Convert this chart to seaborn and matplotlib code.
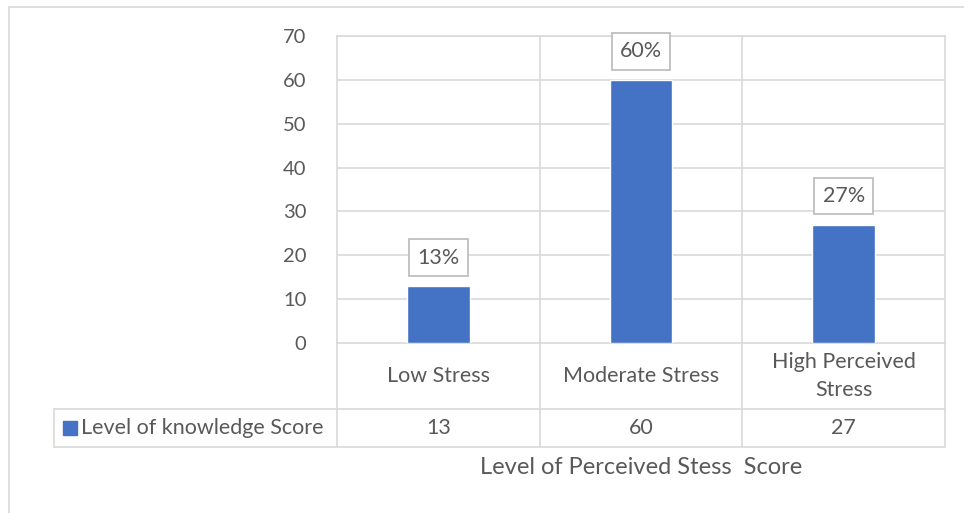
import numpy as np
import pandas as pd
import seaborn as sns
import matplotlib
matplotlib.use("Agg")
from matplotlib import pyplot as plt
from matplotlib import transforms
from matplotlib.patches import Rectangle

sns.set_style("white")
plt.rcParams['font.family'] = ['Lato', 'DejaVu Sans']

categories = ["Low Stress", "Moderate Stress", "High Perceived\nStress"]
scores = [13, 60, 27]
pct_labels = ["13%", "60%", "27%"]
series_name = "Level of knowledge Score"
x_title = "Level of Perceived Stess  Score"
yticks = [0, 10, 20, 30, 40, 50, 60, 70]

blue = "#4472c4"
grid = "#d9d9d9"
txt = "#595959"
fs = 15.5

df = pd.DataFrame({"cat": categories, "score": scores})

W, H = 964, 513
fig = plt.figure(figsize=(W / 100, H / 100), dpi=100)
ax = fig.add_axes([337 / W, 1 - 343 / H, (945 - 337) / W, (343 - 36) / H])

sns.barplot(data=df, x="cat", y="score", color=blue, width=0.31,
            saturation=1, ax=ax, zorder=3)

ax.set_ylim(0, 70)
ax.set_xlim(-0.5, len(categories) - 0.5)
ax.set_yticks(yticks)
ax.set_yticklabels([str(t) for t in yticks], color=txt, fontsize=14.5)
ax.tick_params(axis="y", length=0, pad=22)
ax.set_xticks([])
ax.set_xlabel("")
ax.set_ylabel("")
for s in ax.spines.values():
    s.set_color(grid)
    s.set_linewidth(1.2)

# grid lines
for t in yticks[1:]:
    ax.axhline(t, color=grid, lw=1.2, zorder=1)
for b in np.arange(0.5, len(categories) - 0.5):
    ax.axvline(b, color=grid, lw=1.2, zorder=1)

# percentage labels in boxes
for i, (v, lab) in enumerate(zip(scores, pct_labels)):
    ax.annotate(lab, (i, v), xytext=(0, 20.5), textcoords="offset points",
                ha="center", va="center", fontsize=fs, color=txt,
                bbox=dict(boxstyle="square,pad=0.38", fc="white",
                          ec="#bfbfbf", lw=1.3), zorder=5)

# data table below the axes
h_ax = 343 - 36
y_hdr = -(409 - 343) / h_ax
y_row = -(447 - 343) / h_ax
bt = transforms.blended_transform_factory(ax.transData, ax.transAxes)
x_left = (54 - 337) / (945 - 337)

line_kw = dict(color=grid, lw=1.2, clip_on=False)
bounds = np.arange(-0.5, len(categories))
for b in bounds:
    ax.plot([b, b], [0, y_row], transform=bt, **line_kw)
ax.plot([x_left, 1], [y_hdr, y_hdr], transform=ax.transAxes, **line_kw)
ax.plot([x_left, 1], [y_row, y_row], transform=ax.transAxes, **line_kw)
ax.plot([x_left, x_left], [y_hdr, y_row], transform=ax.transAxes, **line_kw)

for i, (c, v) in enumerate(zip(categories, scores)):
    ax.text(i, y_hdr / 2, c, transform=bt, ha="center", va="center",
            fontsize=fs, color=txt, linespacing=1.55)
    ax.text(i, (y_hdr + y_row) / 2, str(v), transform=bt, ha="center",
            va="center", fontsize=fs, color=txt)

sq_x = (63 - 337) / (945 - 337)
sq_w = 14 / (945 - 337)
sq_h = 14 / h_ax
ax.add_patch(Rectangle((sq_x, (y_hdr + y_row) / 2 - sq_h / 2), sq_w, sq_h,
                       transform=ax.transAxes, color=blue, clip_on=False))
ax.text((81 - 337) / (945 - 337), (y_hdr + y_row) / 2, series_name,
        transform=ax.transAxes, ha="left", va="center", fontsize=fs, color=txt)

fig.text(641 / W, 1 - 468 / H, x_title, ha="center", va="center",
         fontsize=17, color=txt)

# outer chart border
fig.add_artist(plt.Line2D([9 / W, 9 / W], [0, 1 - 7 / H], color=grid, lw=1.2))
fig.add_artist(plt.Line2D([9 / W, 1], [1 - 7 / H, 1 - 7 / H], color=grid, lw=1.2))

fig.savefig("out.png", dpi=100)
